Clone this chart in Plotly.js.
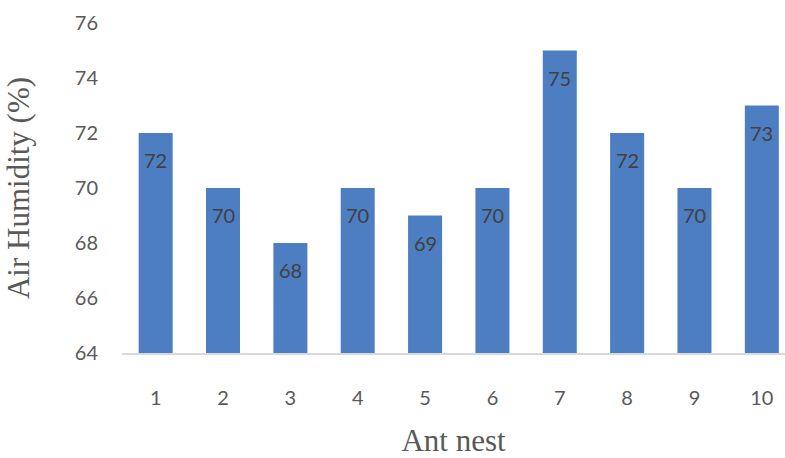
<!DOCTYPE html>
<html>
<head>
<meta charset="utf-8">
<script src="https://cdn.plot.ly/plotly-3.0.1.min.js"></script>
<style>html,body{margin:0;padding:0;background:#fff;}#chart{width:785px;height:458px;}</style>
</head>
<body>
<div id="chart"></div>
<script>
const nests = [1, 2, 3, 4, 5, 6, 7, 8, 9, 10];
const humidity = [72, 70, 68, 70, 69, 70, 75, 72, 70, 73];
const yTicks = [64, 66, 68, 70, 72, 74, 76];

const trace = {
  type: 'bar',
  x: nests,
  y: humidity.map(v => v - 64),
  base: 64,
  marker: {color: '#4d7ec1', line: {width: 0}},
  hoverinfo: 'x+y'
};

const annotations = nests.map((n, i) => ({
  x: n, y: humidity[i], xref: 'x', yref: 'y',
  text: String(humidity[i]), showarrow: false,
  yshift: -27,
  font: {family: 'Lato, "Open Sans", sans-serif', size: 20, color: '#404040'}
}));

const layout = {
  width: 785, height: 458,
  margin: {l: 121.5, r: 0, t: 23, b: 105},
  paper_bgcolor: '#ffffff', plot_bgcolor: '#ffffff',
  showlegend: false,
  bargap: 0.495,
  xaxis: {
    type: 'linear',
    range: [0.5, 10.344],
    tickvals: nests,
    ticktext: nests.map(String),
    showgrid: false, zeroline: false,
    showline: true, linecolor: '#d9d9d9', linewidth: 1.5,
    ticks: '', ticklabelstandoff: 26,
    tickfont: {family: 'Lato, "Open Sans", sans-serif', size: 20, color: '#595959'},
    title: {text: 'Ant nest', standoff: 26,
      font: {family: '"Liberation Serif", "Times New Roman", serif', size: 31, color: '#595959'}}
  },
  yaxis: {
    range: [64, 76],
    tickvals: yTicks,
    ticktext: yTicks.map(String),
    showgrid: false, zeroline: false, showline: false,
    ticks: '', ticklabelstandoff: 23,
    tickfont: {family: 'Lato, "Open Sans", sans-serif', size: 20, color: '#595959'},
    title: {text: 'Air Humidity (%)', standoff: 35,
      font: {family: '"Liberation Serif", "Times New Roman", serif', size: 31, color: '#595959'}}
  },
  annotations: annotations
};

Plotly.newPlot('chart', [trace], layout, {displayModeBar: false, staticPlot: true});
</script>
</body>
</html>
